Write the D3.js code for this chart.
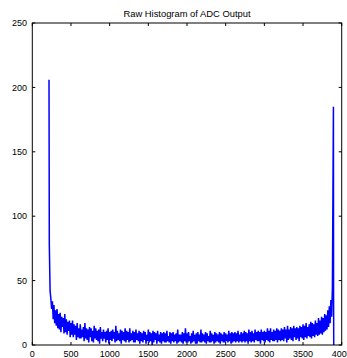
<!DOCTYPE html>
<html><head><meta charset="utf-8">
<script src="https://cdn.jsdelivr.net/npm/d3@7"></script>
<style>body{margin:0;background:#fff}svg{display:block}text{font-family:"Liberation Sans",Arial,sans-serif}</style>
</head><body><div id="c"></div>
<script>
const title = "Raw Histogram of ADC Output";
const xTicks = [0,500,1000,1500,2000,2500,3000,3500,4000];
const yTicks = [0,50,100,150,200,250];
// left edge spike
const leftSpikeCode = [216];
const leftSpikeCount = [206];
// band bins: codes 220, 230, ... (one value per 10 codes)
const bandStart = 220, bandStep = 10;
const bandCounts = [
78,42,36,28,34,20,31,17,27,15,
28,13,24,12,25,10,22,14,21,9,
24,10,20,8,18,11,19,6,17,8,
19,6,16,8,15,4,17,6,13,5,
16,5,12,6,14,3,17,5,13,4,
12,2,14,6,13,3,11,2,15,5,
13,4,11,3,12,1,14,5,10,3,
12,5,10,2,11,4,13,1,10,4,
11,3,12,5,10,2,15,3,11,4,
9,3,12,1,11,4,10,3,13,2,
11,4,10,2,13,3,9,4,11,2,
10,2,12,4,9,3,11,1,10,3,
9,2,11,4,10,1,8,3,12,2,
10,3,9,0,11,2,10,4,9,1,
11,3,8,2,10,1,9,3,10,2,
9,2,11,3,7,2,10,1,9,3,
10,2,8,3,9,1,12,2,8,3,
8,2,10,1,9,3,13,2,9,2,
10,3,7,1,9,2,11,3,8,1,
9,1,10,3,8,2,12,2,9,3,
8,2,10,1,9,3,7,2,11,2,
9,3,8,1,10,2,9,3,8,2,
10,1,9,3,8,2,10,2,9,3,
8,2,11,3,9,1,10,2,9,3,
10,2,9,3,11,2,8,3,10,2,
9,3,11,2,10,3,9,1,12,3,
10,2,11,3,9,2,12,4,10,3,
11,3,10,1,12,4,10,3,11,2,
10,4,13,3,11,2,13,4,10,3,
12,3,11,4,13,2,12,4,11,3,
13,4,12,3,14,5,12,2,15,4,
12,5,14,4,13,3,15,6,13,4,
14,5,13,3,15,6,14,5,16,4,
15,6,17,5,14,7,16,6,18,5,
17,7,16,6,19,8,17,7,21,8,
19,9,22,8,21,10,24,11,23,12,
27,14,30,17,35,22,45
];
// right edge spike and drop
const rightCodes = [3893,3895,3897];
const rightCounts = [185,38,0];

const data = [];
leftSpikeCode.forEach((c,i)=>data.push([c,leftSpikeCount[i]]));
bandCounts.forEach((v,i)=>data.push([bandStart+i*bandStep,v]));
rightCodes.forEach((c,i)=>data.push([c,rightCounts[i]]));

const W=347,H=358;
const m={l:32.3,r:W-341.7,t:23,b:H-345};
const svg=d3.select("#c").append("svg").attr("width",W).attr("height",H);
const x=d3.scaleLinear().domain([0,4000]).range([m.l,W-m.r]);
const y=d3.scaleLinear().domain([0,250]).range([H-m.b,m.t]);

svg.append("path").datum(data)
 .attr("fill","none").attr("stroke","#0000ff").attr("stroke-width",1.5)
 .attr("stroke-linejoin","bevel")
 .attr("d",d3.line().x(d=>x(d[0])).y(d=>y(d[1])));

const tl=3;
const ax=svg.append("g").attr("stroke","#000").attr("stroke-width",1).attr("fill","none");
ax.append("rect").attr("x",x(0)).attr("y",y(250)).attr("width",x(4000)-x(0)).attr("height",y(0)-y(250));
xTicks.forEach(t=>{
  ax.append("line").attr("x1",x(t)).attr("x2",x(t)).attr("y1",y(0)).attr("y2",y(0)-tl);
  ax.append("line").attr("x1",x(t)).attr("x2",x(t)).attr("y1",y(250)).attr("y2",y(250)+tl);
});
yTicks.forEach(t=>{
  ax.append("line").attr("x1",x(0)).attr("x2",x(0)+tl).attr("y1",y(t)).attr("y2",y(t));
  ax.append("line").attr("x1",x(4000)).attr("x2",x(4000)-tl).attr("y1",y(t)).attr("y2",y(t));
});
svg.selectAll(".xt").data(xTicks).enter().append("text")
 .attr("x",d=>x(d)).attr("y",357).attr("text-anchor","middle").attr("font-size",9).text(d=>d);
svg.selectAll(".yt").data(yTicks).enter().append("text")
 .attr("x",27).attr("y",d=>y(d)+3.2).attr("text-anchor","end").attr("font-size",9).text(d=>d);
svg.append("text").attr("x",(x(0)+x(4000))/2).attr("y",16.5).attr("text-anchor","middle").attr("font-size",9.4).text(title);
</script></body></html>
